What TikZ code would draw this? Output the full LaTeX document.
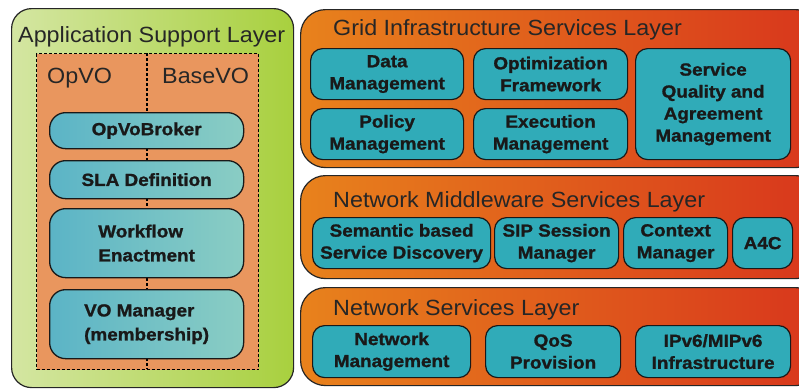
\documentclass[tikz,border=0pt]{standalone}
\usepackage{fontspec}
\setmainfont[FakeStretch=1.06]{Liberation Sans}
\newfontfamily\boxfont[FakeStretch=1.08,FakeBold=1.2]{Liberation Sans}
\begin{document}
\begin{tikzpicture}[x=1pt,y=-1pt,
  titletxt/.style={anchor=base west,inner sep=0pt,font=\fontsize{22}{26}\selectfont,text=black!85},
  greenpanel/.style={draw=black!85,line width=1.2pt,rounded corners=20pt,left color=green1,right color=green2,anchor=north west,inner sep=0pt},
  vopanel/.style={draw=black,line width=1.4pt,dash pattern=on 3pt off 2pt,fill=voorange,anchor=north west,inner sep=0pt},
  layerpanel/.style={draw=black!85,line width=1.2pt,rounded corners=25pt,left color=lay1,right color=lay2,anchor=north west,inner sep=0pt},
  lbox/.style={draw=black!90,line width=1.3pt,rounded corners=16pt,left color=lb1,right color=lb2,anchor=north west,inner sep=0pt,minimum width=194pt,
     font=\boxfont\bfseries\fontsize{17.5}{24}\selectfont,text=black!90},
  rbox/.style={draw=black!90,line width=1.2pt,rounded corners=12pt,fill=rb,anchor=north west,inner sep=0pt,align=center,
     font=\boxfont\bfseries\fontsize{17.5}{22}\selectfont,text=black!90}
]
\definecolor{green1}{HTML}{D4E6A2}
\definecolor{green2}{HTML}{A8D03E}
\definecolor{voorange}{HTML}{E9965E}
\definecolor{lay1}{HTML}{E8821C}
\definecolor{lay2}{HTML}{D8361C}
\definecolor{lb1}{HTML}{5BB4C6}
\definecolor{lb2}{HTML}{8ACDC4}
\definecolor{rb}{HTML}{30ABB8}
\useasboundingbox (0,0) rectangle (799,388);
\clip (0,0) rectangle (799,388);
\fill[white] (0,0) rectangle (799,388);
% left panel
\node[greenpanel,minimum width=282pt,minimum height=379pt] (app) at (11,8) {};
\node[titletxt] (apptitle) at (18,42) {Application Support Layer};
\node[vopanel,minimum width=222pt,minimum height=316pt] (vo) at (36,53) {};
\coordinate (divtop) at (147,53);
\coordinate (divbot) at (147,369);
\draw[line width=1.4pt,dash pattern=on 3pt off 2pt] (divtop) -- (divbot);
\node[titletxt] (opvo) at (47,83) {OpVO};
\node[titletxt] (basevo) at (162,83) {BaseVO};
\node[lbox,minimum height=36pt] (broker) at (49,112) {OpVoBroker};
\node[lbox,minimum height=38pt] (sla) at (49,160) {SLA Definition};
\node[lbox,minimum height=69pt,align=left] (wf) at (49,208) {Workflow\\Enactment};
\node[lbox,minimum height=69pt,align=left] (vom) at (49,289) {VO Manager\\(membership)};
% grid layer
\node[layerpanel,minimum width=520pt,minimum height=158pt] (grid) at (300,9) {};
\node[titletxt] (gridtitle) at (333,35) {Grid Infrastructure Services Layer};
\node[rbox,minimum width=153pt,minimum height=51pt] (data) at (310,48) {Data\\Management};
\node[rbox,minimum width=154pt,minimum height=51pt] (opt) at (473,48) {Optimization\\Framework};
\node[rbox,minimum width=153pt,minimum height=51pt] (policy) at (310,108) {Policy\\Management};
\node[rbox,minimum width=154pt,minimum height=51pt] (exec) at (473,108) {Execution\\Management};
\node[rbox,minimum width=155pt,minimum height=111pt] (sqa) at (635,48) {Service\\Quality and\\Agreement\\Management};
% middleware layer
\node[layerpanel,minimum width=520pt,minimum height=103pt] (mid) at (300,175) {};
\node[titletxt] (midtitle) at (333,207) {Network Middleware Services Layer};
\node[rbox,minimum width=178pt,minimum height=51pt] (sem) at (312,217) {Semantic based\\Service Discovery};
\node[rbox,minimum width=124pt,minimum height=51pt] (sip) at (494,217) {SIP Session\\Manager};
\node[rbox,minimum width=104pt,minimum height=51pt] (ctx) at (623,217) {Context\\Manager};
\node[rbox,minimum width=60pt,minimum height=51pt] (a4c) at (732,217) {A4C};
% network services layer
\node[layerpanel,minimum width=520pt,minimum height=98pt] (net) at (300,287) {};
\node[titletxt] (nettitle) at (333,315) {Network Services Layer};
\node[rbox,minimum width=158pt,minimum height=52pt] (nm) at (312,325) {Network\\Management};
\node[rbox,minimum width=135pt,minimum height=52pt] (qos) at (485,325) {QoS\\Provision};
\node[rbox,minimum width=155pt,minimum height=52pt] (ipv6) at (635,325) {IPv6/MIPv6\\Infrastructure};
\end{tikzpicture}
\end{document}
